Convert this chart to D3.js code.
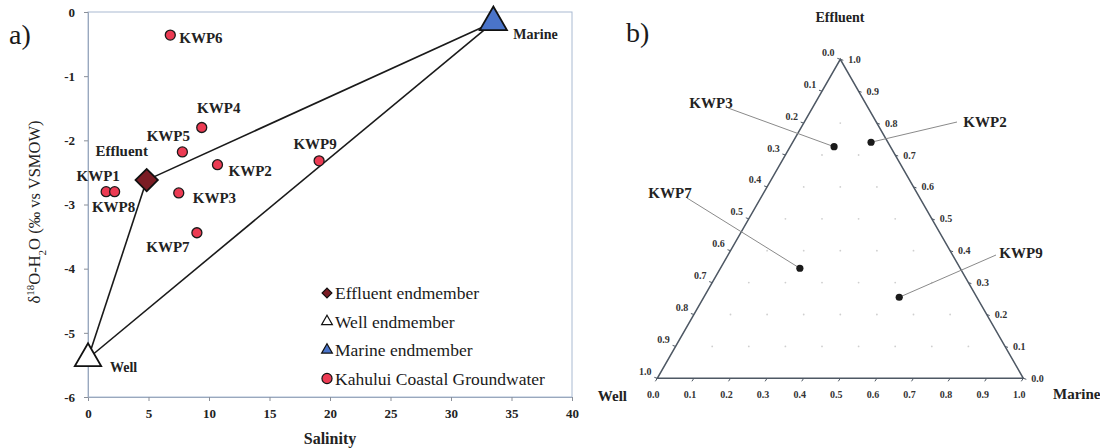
<!DOCTYPE html>
<html><head><meta charset="utf-8">
<script src="https://cdn.jsdelivr.net/npm/d3@7"></script>
<style>
body{margin:0;background:#fff;}
svg{display:block;}
</style></head>
<body>
<svg id="chart" width="1100" height="448"></svg>
<script>
// ---------- Panel a data ----------
const samples = ["KWP1","KWP2","KWP3","KWP4","KWP5","KWP6","KWP7","KWP8","KWP9"];
const salinity = [1.5, 10.7, 7.5, 9.4, 7.8, 6.8, 9.0, 2.2, 19.1];
const d18O = [-2.80, -2.38, -2.82, -1.80, -2.18, -0.36, -3.44, -2.80, -2.32];
const endNames = ["Effluent","Well","Marine"];
const endSalinity = [4.85, 0.0, 33.5];
const endD18O = [-2.62, -5.40, -0.16];
const xTicks = [0,5,10,15,20,25,30,35,40];
const yTicks = [0,-1,-2,-3,-4,-5,-6];
const legendLabels = ["Effluent endmember","Well endmember","Marine endmember","Kahului Coastal Groundwater"];

// ---------- Panel b data (fractions) ----------
const ternSamples = ["KWP3","KWP2","KWP7","KWP9"];
const fracEffluent = [0.726, 0.740, 0.345, 0.254];
const fracMarine = [0.120, 0.214, 0.217, 0.534];
const fracWell = [0.154, 0.046, 0.438, 0.212];
const ternTicks = [0,0.1,0.2,0.3,0.4,0.5,0.6,0.7,0.8,0.9,1.0];

const FONT = "'Liberation Serif', 'DejaVu Serif', 'Times New Roman', Times, serif";
const svg = d3.select("#chart").attr("font-family",FONT).style("font-family",FONT);

// ================= Panel a =================
const x = d3.scaleLinear().domain([0,40]).range([88,572]);
const y = d3.scaleLinear().domain([-6,0]).range([397,12]);

const ga = svg.append("g");
ga.append("rect").attr("x",x(0)).attr("y",y(0)).attr("width",x(40)-x(0)).attr("height",y(-6)-y(0))
  .attr("fill","none").attr("stroke","#a9bad2").attr("stroke-width",1);

const xAxis = ga.append("g").attr("transform",`translate(0,${y(-6)})`)
  .call(d3.axisBottom(x).tickValues(xTicks).tickSize(4).tickFormat(d3.format("d")));
const yAxis = ga.append("g").attr("transform",`translate(${x(0)},0)`)
  .call(d3.axisLeft(y).tickValues(yTicks).tickSize(4).tickFormat(d=> d===0?"0":String(d)));
[xAxis,yAxis].forEach(g=>{
  g.attr("font-family",FONT);
  g.select(".domain").attr("stroke","#9aa8bd");
  g.selectAll(".tick line").attr("stroke","#8a8f98");
  g.selectAll(".tick text").style("font-family",FONT).attr("font-size",13)
    .attr("font-weight","bold").attr("fill","#222");
});
xAxis.selectAll(".tick text").attr("dy","1.1em");
yAxis.selectAll(".tick text").attr("dx","-6");

const eIdx = [0,1,2];
const edges = [[0,1],[1,2],[2,0]];
ga.selectAll("line.mix").data(edges).join("line").attr("class","mix")
  .attr("x1",d=>x(endSalinity[d[0]])).attr("y1",d=>y(endD18O[d[0]]))
  .attr("x2",d=>x(endSalinity[d[1]])).attr("y2",d=>y(endD18O[d[1]]))
  .attr("stroke","#1a1a1a").attr("stroke-width",1.6);

const endStyle = [
  {sym:d3.symbolSquare,size:250,rot:45,fill:"#7b1c24"},
  {sym:d3.symbolTriangle,size:300,rot:0,fill:"#ffffff"},
  {sym:d3.symbolTriangle,size:320,rot:0,fill:"#4a74c9"}
];
ga.selectAll("path.end").data(eIdx).join("path").attr("class","end")
  .attr("d",i=>d3.symbol().type(endStyle[i].sym).size(endStyle[i].size)())
  .attr("transform",i=>`translate(${x(endSalinity[i])},${y(endD18O[i])}) rotate(${endStyle[i].rot})`)
  .attr("fill",i=>endStyle[i].fill).attr("stroke","#111").attr("stroke-width",1.8);

ga.selectAll("circle.s").data(d3.range(samples.length)).join("circle").attr("class","s")
  .attr("cx",i=>x(salinity[i])).attr("cy",i=>y(d18O[i])).attr("r",5)
  .attr("fill","#ec3b53").attr("stroke","#1a1a1a").attr("stroke-width",1.3);

const labelOff = {KWP1:[-8,-16,"middle"],KWP2:[11,6,"start"],KWP3:[14,5,"start"],KWP4:[17,-20,"middle"],
  KWP5:[-14,-16,"middle"],KWP6:[9,3,"start"],KWP7:[-29,14,"middle"],KWP8:[-1,15,"middle"],KWP9:[-4,-17,"middle"]};
ga.selectAll("text.sl").data(d3.range(samples.length)).join("text").attr("class","sl")
  .attr("x",i=>x(salinity[i])+labelOff[samples[i]][0])
  .attr("y",i=>y(d18O[i])+labelOff[samples[i]][1])
  .attr("text-anchor",i=>labelOff[samples[i]][2]).attr("dominant-baseline","central")
  .attr("font-size",15).attr("font-weight","bold").attr("fill","#222").text(i=>samples[i]);

const endLabelOff = [[-25,-29,"middle"],[22,9,"start"],[20,12,"start"]];
ga.selectAll("text.el").data(eIdx).join("text").attr("class","el")
  .attr("x",i=>x(endSalinity[i])+endLabelOff[i][0]).attr("y",i=>y(endD18O[i])+endLabelOff[i][1])
  .attr("text-anchor",i=>endLabelOff[i][2]).attr("dominant-baseline","central")
  .attr("font-size",i=>i===0?15:14).attr("font-weight","bold").attr("fill","#222").text(i=>endNames[i]);

const legX = 327, legY0 = 293, legDy = 28.5;
const legSym = [
  {sym:d3.symbolSquare,size:48,rot:45,fill:"#7b1c24"},
  {sym:d3.symbolTriangle,size:50,rot:0,fill:"#ffffff"},
  {sym:d3.symbolTriangle,size:50,rot:0,fill:"#4a74c9"},
  {sym:d3.symbolCircle,size:80,rot:0,fill:"#ec3b53"}
];
const leg = ga.selectAll("g.leg").data(d3.range(legendLabels.length)).join("g").attr("class","leg")
  .attr("transform",i=>`translate(${legX},${legY0+i*legDy})`);
leg.append("path").attr("d",i=>d3.symbol().type(legSym[i].sym).size(legSym[i].size)())
  .attr("transform",i=>`rotate(${legSym[i].rot})`)
  .attr("fill",i=>legSym[i].fill).attr("stroke","#111").attr("stroke-width",1.2);
leg.append("text").attr("x",8).attr("y",0).attr("dominant-baseline","central")
  .attr("font-size",17.5).attr("fill","#1a1a1a").text(i=>legendLabels[i]);

ga.append("text").attr("x",x(20)).attr("y",438).attr("text-anchor","middle").attr("dominant-baseline","central")
  .attr("font-size",16).attr("font-weight","bold").attr("fill","#222").text("Salinity");
const yl = ga.append("text").attr("transform","translate(40,212) rotate(-90)").attr("text-anchor","middle")
  .attr("font-size",16.5).attr("fill","#222");
yl.append("tspan").text("δ");
yl.append("tspan").attr("baseline-shift","super").attr("font-size",11).text("18");
yl.append("tspan").text("O-H");
yl.append("tspan").attr("baseline-shift","sub").attr("font-size",11).text("2");
yl.append("tspan").text("O (‰ vs VSMOW)");

svg.append("text").attr("x",9).attr("y",44).attr("font-size",28).attr("fill","#1a1a1a").text("a)");

// ================= Panel b (ternary) =================
const tx = d3.scaleLinear().domain([0,1]).range([657.3,1023.3]);
const ty = d3.scaleLinear().domain([0,1]).range([378.3,59.3]);
const P = (e,m) => [tx(m + e/2), ty(e)];
const gb = svg.append("g");

const grid = [];
for (let i=1;i<10;i++) for (let j=1;j<10-i;j++) grid.push([i/10,j/10]);
gb.selectAll("circle.g").data(grid).join("circle").attr("class","g")
  .attr("cx",d=>P(d[0],d[1])[0]).attr("cy",d=>P(d[0],d[1])[1]).attr("r",0.9).attr("fill","#cfcfcf");

const V = [P(0,0),P(0,1),P(1,0)];
gb.append("path").attr("d",d3.line()(V)+"Z").attr("fill","none").attr("stroke","#4e5864").attr("stroke-width",1.5);

gb.selectAll("line.bt").data(ternTicks).join("line").attr("class","bt")
  .attr("x1",v=>P(0,v)[0]).attr("y1",v=>P(0,v)[1]).attr("x2",v=>P(0,v)[0]-2).attr("y2",v=>P(0,v)[1]+3)
  .attr("stroke","#4e5864");
gb.selectAll("text.bt").data(ternTicks).join("text").attr("class","bt")
  .attr("x",v=>P(0,v)[0]-4).attr("y",v=>P(0,v)[1]+16).attr("text-anchor","middle").attr("dominant-baseline","central")
  .attr("font-size",10).attr("font-weight","bold").attr("fill","#333").text(v=>v.toFixed(1));
gb.selectAll("line.lt").data(ternTicks).join("line").attr("class","lt")
  .attr("x1",v=>P(1-v,0)[0]).attr("y1",v=>P(1-v,0)[1]).attr("x2",v=>P(1-v,0)[0]-3).attr("y2",v=>P(1-v,0)[1]-1)
  .attr("stroke","#4e5864");
gb.selectAll("text.lt").data(ternTicks).join("text").attr("class","lt")
  .attr("x",v=>P(1-v,0)[0]-12).attr("y",v=>P(1-v,0)[1]-7).attr("text-anchor","middle").attr("dominant-baseline","central")
  .attr("font-size",10).attr("font-weight","bold").attr("fill","#333").text(v=>v.toFixed(1));
gb.selectAll("line.rt").data(ternTicks).join("line").attr("class","rt")
  .attr("x1",v=>P(v,1-v)[0]).attr("y1",v=>P(v,1-v)[1]).attr("x2",v=>P(v,1-v)[0]+3).attr("y2",v=>P(v,1-v)[1]+1)
  .attr("stroke","#4e5864");
gb.selectAll("text.rt").data(ternTicks).join("text").attr("class","rt")
  .attr("x",v=>P(v,1-v)[0]+8).attr("y",v=>P(v,1-v)[1]).attr("text-anchor","start").attr("dominant-baseline","central")
  .attr("font-size",10).attr("font-weight","bold").attr("fill","#333").text(v=>v.toFixed(1));

gb.append("text").attr("x",840).attr("y",17).attr("text-anchor","middle").attr("dominant-baseline","central")
  .attr("font-size",14).attr("font-weight","bold").attr("fill","#222").text("Effluent");
gb.append("text").attr("x",627).attr("y",396).attr("text-anchor","end").attr("dominant-baseline","central")
  .attr("font-size",15).attr("font-weight","bold").attr("fill","#222").text("Well");
gb.append("text").attr("x",1053).attr("y",394).attr("text-anchor","start").attr("dominant-baseline","central")
  .attr("font-size",15).attr("font-weight","bold").attr("fill","#222").text("Marine");

const ternLab = {KWP3:[[711,103],[728,108]],KWP2:[[985,122],[957,122]],KWP7:[[670,193],[687,198]],KWP9:[[1021,253],[996,255]]};
const ti = d3.range(ternSamples.length);
gb.selectAll("line.ld").data(ti).join("line").attr("class","ld")
  .attr("x1",i=>ternLab[ternSamples[i]][1][0]).attr("y1",i=>ternLab[ternSamples[i]][1][1])
  .attr("x2",i=>P(fracEffluent[i],fracMarine[i])[0]).attr("y2",i=>P(fracEffluent[i],fracMarine[i])[1])
  .attr("stroke","#8a8a8a").attr("stroke-width",1);
gb.selectAll("circle.tp").data(ti).join("circle").attr("class","tp")
  .attr("cx",i=>P(fracEffluent[i],fracMarine[i])[0]).attr("cy",i=>P(fracEffluent[i],fracMarine[i])[1])
  .attr("r",3.6).attr("fill","#1a1a1a");
gb.selectAll("text.tl").data(ti).join("text").attr("class","tl")
  .attr("x",i=>ternLab[ternSamples[i]][0][0]).attr("y",i=>ternLab[ternSamples[i]][0][1])
  .attr("text-anchor","middle").attr("dominant-baseline","central")
  .attr("font-size",15).attr("font-weight","bold").attr("fill","#222").text(i=>ternSamples[i]);

svg.append("text").attr("x",626).attr("y",42).attr("font-size",28).attr("fill","#1a1a1a").text("b)");
</script>
</body></html>
